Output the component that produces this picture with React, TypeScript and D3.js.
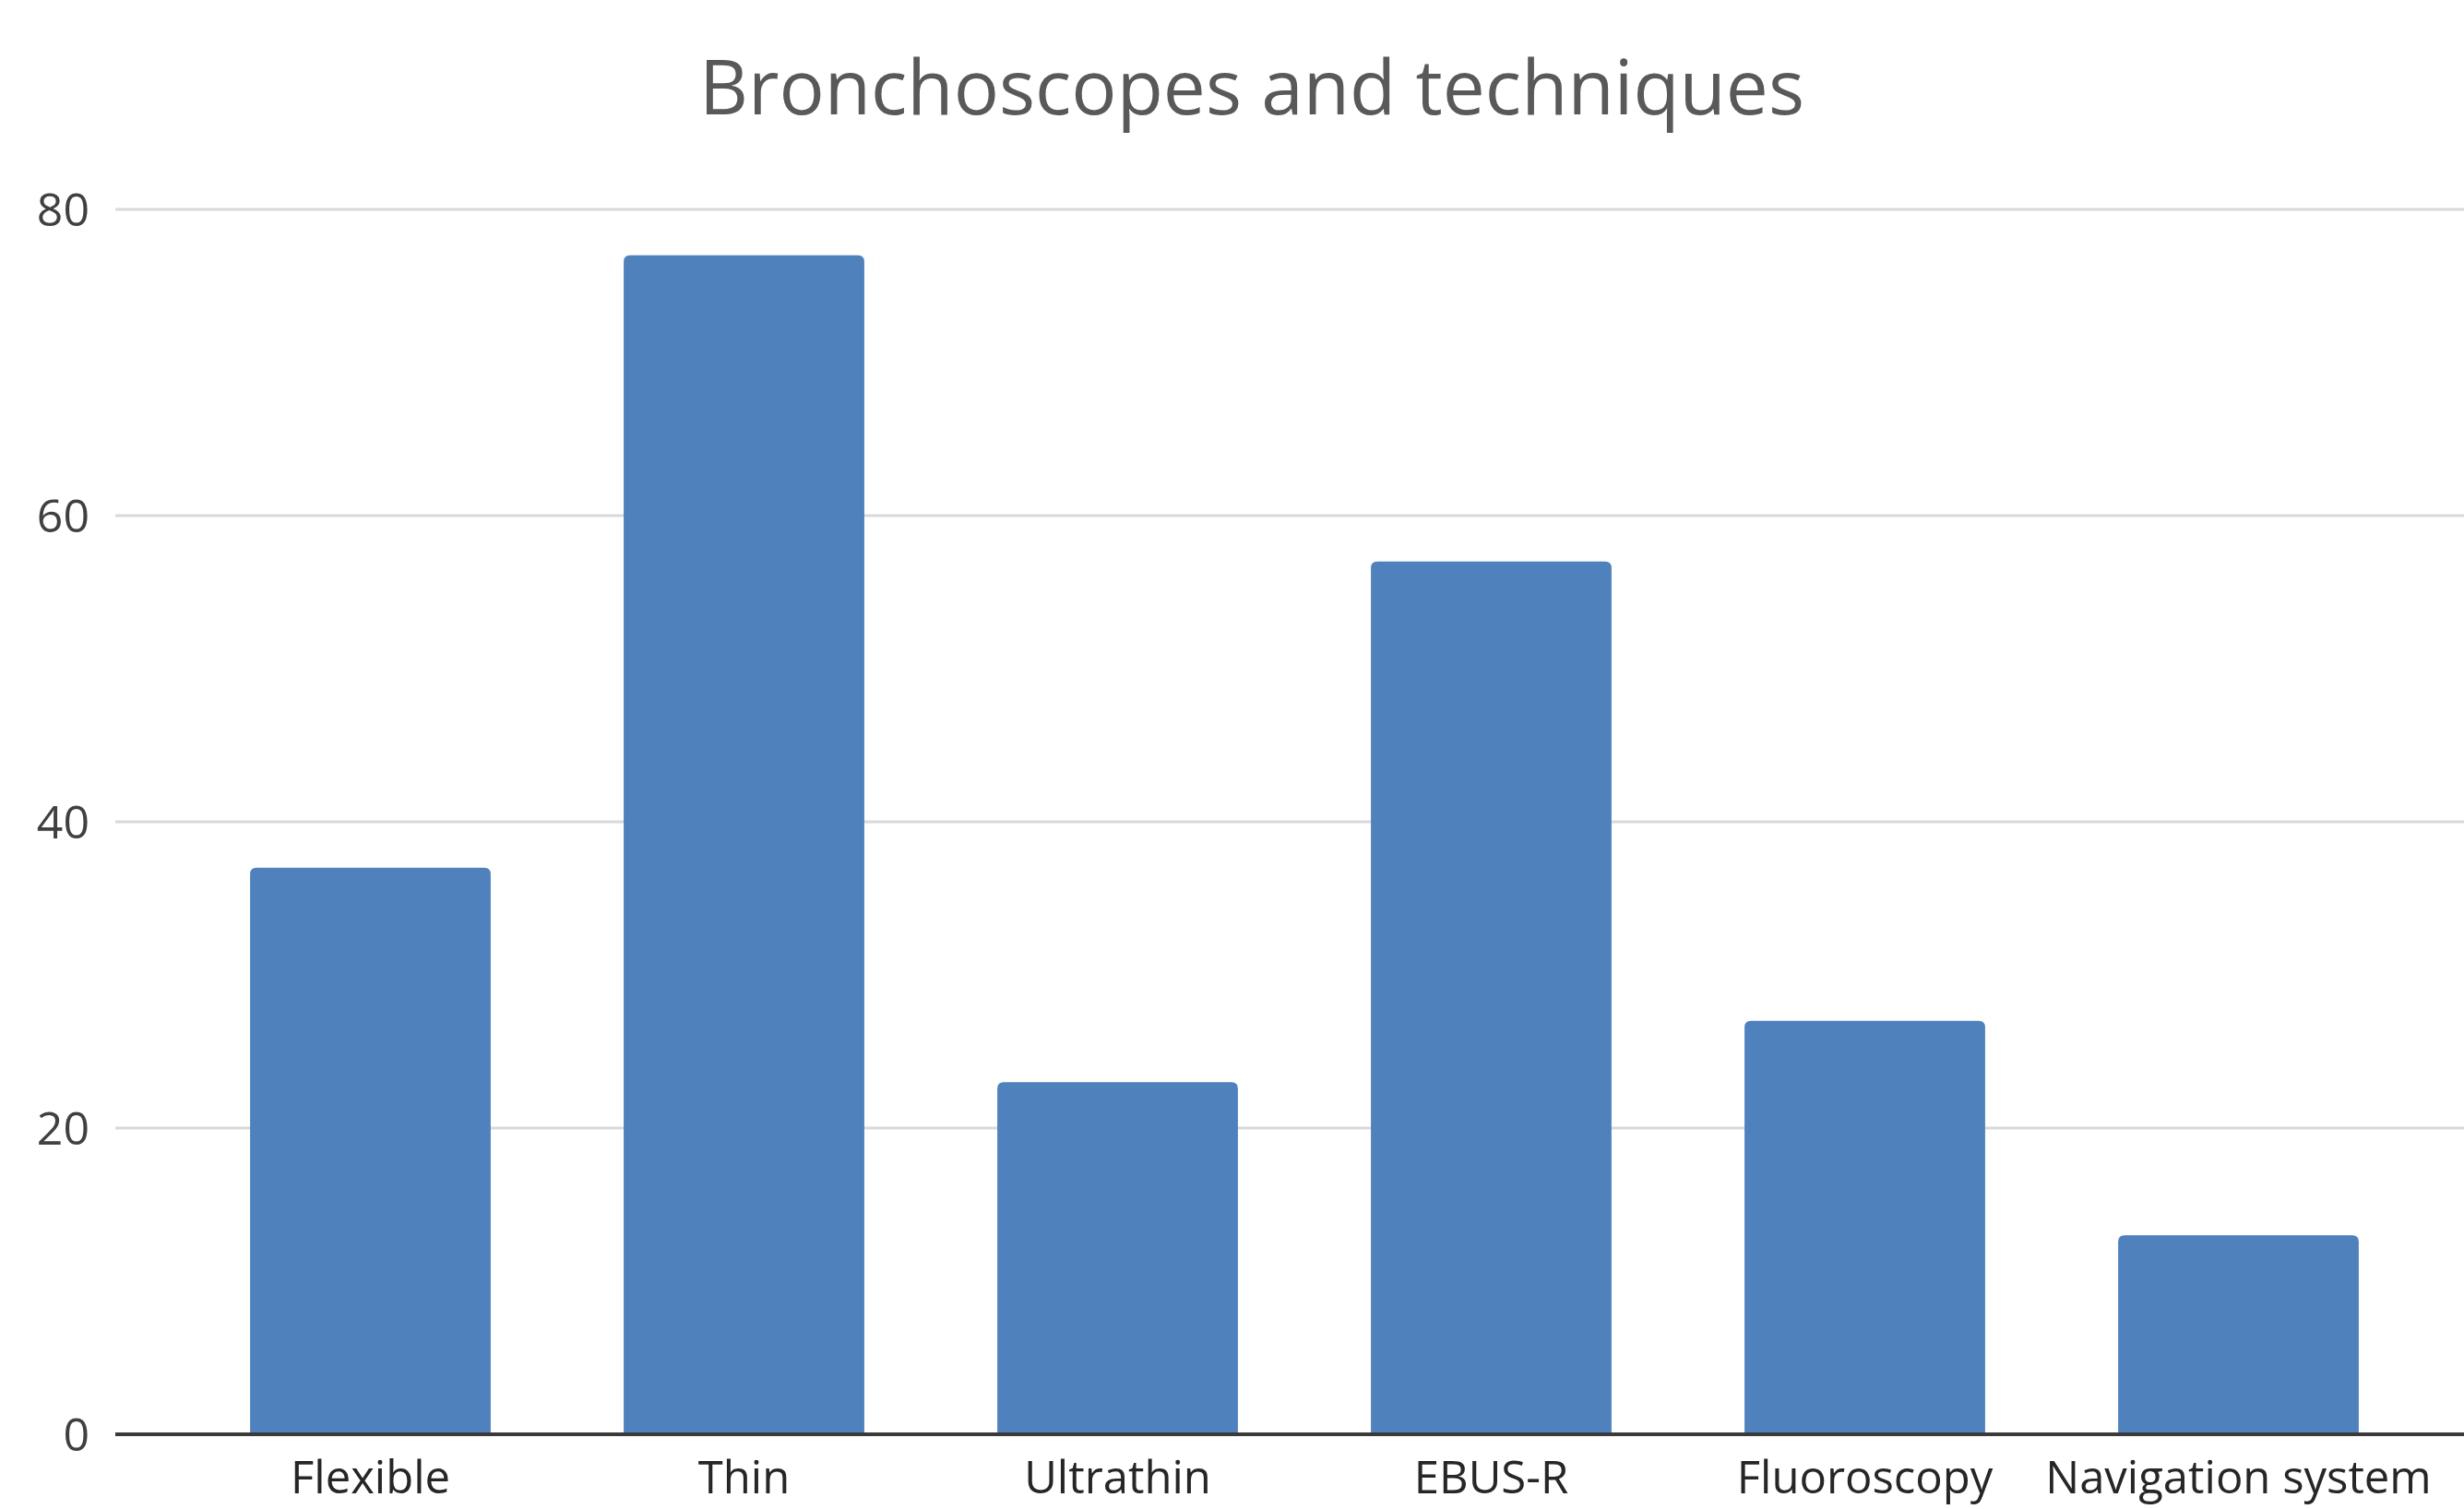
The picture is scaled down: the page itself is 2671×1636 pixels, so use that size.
import React, { useEffect, useRef } from "react";
import * as d3 from "d3";

// data
const categories = ["Flexible", "Thin", "Ultrathin", "EBUS-R", "Fluoroscopy", "Navigation system"];
const counts = [37, 77, 23, 57, 27, 13];
const yTicks = [0, 20, 40, 60, 80];
const chartTitle = "Bronchoscopes and techniques";

const width = 2671;
const height = 1636;
const font = "'Open Sans', 'Noto Sans', sans-serif";

const App = () => {
  const ref = useRef<SVGSVGElement | null>(null);

  useEffect(() => {
    const svg = d3.select(ref.current);
    svg.selectAll("*").remove();

    const plotLeft = 125;
    const plotRight = width;

    const x = d3
      .scaleBand()
      .domain(categories)
      .range([199, 2629])
      .paddingInner(0.356)
      .paddingOuter(0.178);

    const y = d3.scaleLinear().domain([0, 80]).range([1555, 227]);

    // title
    svg
      .append("text")
      .attr("x", 1357)
      .attr("y", 124)
      .attr("text-anchor", "middle")
      .attr("font-family", font)
      .attr("font-size", 82)
      .attr("fill", "#595959")
      .text(chartTitle);

    // gridlines
    svg
      .append("g")
      .selectAll("line")
      .data(yTicks.filter((d) => d > 0))
      .join("line")
      .attr("x1", plotLeft)
      .attr("x2", plotRight)
      .attr("y1", (d) => y(d))
      .attr("y2", (d) => y(d))
      .attr("stroke", "#d9d9d9")
      .attr("stroke-width", 3);

    // y labels
    svg
      .append("g")
      .selectAll("text")
      .data(yTicks)
      .join("text")
      .attr("x", 97)
      .attr("y", (d) => y(d))
      .attr("dy", "0.36em")
      .attr("text-anchor", "end")
      .attr("font-family", font)
      .attr("font-size", 50)
      .attr("fill", "#404040")
      .text((d) => d);

    // bars with slightly rounded tops
    const r = 7;
    const barPath = (d: number, i: number) => {
      const x0 = x(categories[i]) as number;
      const x1 = x0 + x.bandwidth();
      const top = y(d);
      const bottom = y(0);
      return `M${x0},${bottom}V${top + r}Q${x0},${top} ${x0 + r},${top}H${x1 - r}Q${x1},${top} ${x1},${top + r}V${bottom}Z`;
    };

    svg
      .append("g")
      .selectAll("path")
      .data(counts)
      .join("path")
      .attr("d", (d, i) => barPath(d, i))
      .attr("fill", "#4f81bd");

    // baseline
    svg
      .append("line")
      .attr("x1", plotLeft)
      .attr("x2", plotRight)
      .attr("y1", y(0))
      .attr("y2", y(0))
      .attr("stroke", "#3a3a3a")
      .attr("stroke-width", 4);

    // x labels
    svg
      .append("g")
      .selectAll("text")
      .data(categories)
      .join("text")
      .attr("x", (d) => (x(d) as number) + x.bandwidth() / 2)
      .attr("y", 1619)
      .attr("text-anchor", "middle")
      .attr("font-family", font)
      .attr("font-size", 49)
      .attr("fill", "#262626")
      .text((d) => d);
  }, []);

  return (
    <svg
      ref={ref}
      width={width}
      height={height}
      style={{ position: "absolute", left: 0, top: 0, background: "#fff" }}
    ></svg>
  );
};

export default App;
